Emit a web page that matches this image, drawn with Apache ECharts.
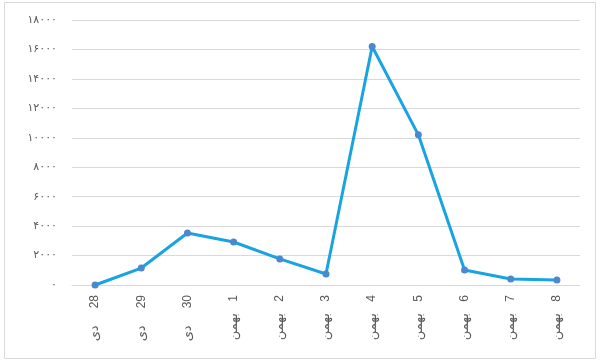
<!DOCTYPE html>
<html>
<head>
<meta charset="utf-8">
<script src="https://cdn.jsdelivr.net/npm/echarts@6/dist/echarts.min.js"></script>
<style>html,body{margin:0;padding:0;background:#fff}#c{width:600px;height:363px}</style>
</head>
<body>
<div id="c"></div>
<script>
const dayNumbers = ['28','29','30','1','2','3','4','5','6','7','8'];
const monthNames = ['دی','دی','دی','بهمن','بهمن','بهمن','بهمن','بهمن','بهمن','بهمن','بهمن'];
const values = [0, 1150, 3530, 2920, 1770, 750, 16200, 10200, 1020, 410, 340];
const yTickLabels = ['۰','۲۰۰۰','۴۰۰۰','۶۰۰۰','۸۰۰۰','۱۰۰۰۰','۱۲۰۰۰','۱۴۰۰۰','۱۶۰۰۰','۱۸۰۰۰'];

const categories = dayNumbers.map((d, i) => d + ' ' + monthNames[i]);

const chart = echarts.init(document.getElementById('c'));
chart.setOption({
  animation: false,
  backgroundColor: '#fff',
  graphic: [{
    type: 'rect',
    shape: {x: 4.5, y: 2.5, width: 591, height: 356},
    style: {fill: null, stroke: '#d9d9d9', lineWidth: 1},
    silent: true
  }],
  grid: {left: 72, right: 20, top: 20, bottom: 78},
  xAxis: {
    type: 'category',
    data: categories,
    boundaryGap: true,
    axisLine: {lineStyle: {color: '#d9d9d9'}},
    axisTick: {show: false},
    axisLabel: {
      rotate: 90,
      interval: 0,
      margin: 10,
      color: '#595959',
      formatter: (v, i) => '{m|' + monthNames[i] + '}{d|' + dayNumbers[i] + '}',
      rich: {
        m: {fontSize: 13, fontFamily: 'DejaVu Sans', color: '#595959', width: 36, align: 'center'},
        d: {fontSize: 12, fontFamily: 'Liberation Sans', color: '#595959', padding: [0, 0, 0, 7]}
      }
    }
  },
  yAxis: {
    type: 'value',
    min: 0,
    max: 18000,
    interval: 2000,
    axisLine: {show: false},
    axisTick: {show: false},
    splitLine: {lineStyle: {color: '#d9d9d9', width: 1}},
    axisLabel: {
      margin: 15,
      color: '#595959',
      fontSize: 11,
      fontFamily: 'DejaVu Sans',
      formatter: v => yTickLabels[Math.round(v / 2000)]
    }
  },
  series: [{
    type: 'line',
    data: values,
    symbol: 'circle',
    symbolSize: 7,
    lineStyle: {color: '#19a3e0', width: 3},
    itemStyle: {color: '#4a88cf'}
  }]
});
</script>
</body>
</html>
